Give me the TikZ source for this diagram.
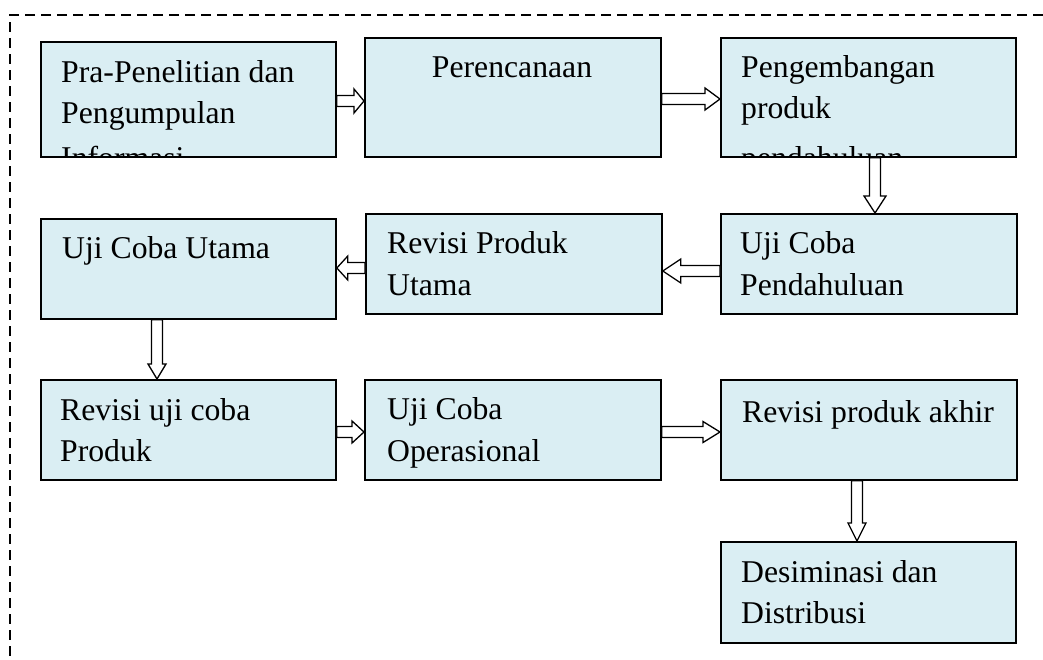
\documentclass[tikz,border=0pt]{standalone}
\usepackage{fontspec}
\setmainfont{Liberation Serif}
\usetikzlibrary{calc}
\definecolor{boxblue}{HTML}{DAEEF3}
\tikzset{
  stepbox/.style={draw=black, fill=boxblue, line width=1.8pt, rectangle, inner sep=0pt, anchor=north west},
  txt/.style={anchor=base west, inner sep=0pt, font=\fontsize{31.7}{41}\selectfont},
  txtc/.style={anchor=base, inner sep=0pt, font=\fontsize{31.7}{41}\selectfont},
  barrow/.style={draw=black, fill=white, line width=1.3pt, line join=miter},
  frame/.style={draw=black, line width=2.2pt, dash pattern=on 10pt off 6pt}
}
% block arrow: #1 start, #2 tip, #3 head length, #4 head half width
\newcommand{\blockarr}[4]{%
  \coordinate (ba-h) at ($(#2)!#3!(#1)$);
  \draw[barrow] ($(#1)!5.5pt!90:(#2)$) -- ($(ba-h)!5.5pt!90:(#2)$) -- ($(ba-h)!#4!90:(#2)$)
    -- (#2) -- ($(ba-h)!#4!-90:(#2)$) -- ($(ba-h)!5.5pt!-90:(#2)$) -- ($(#1)!5.5pt!-90:(#2)$) -- cycle;
}
\begin{document}
\begin{tikzpicture}[x=1pt,y=-1pt]
\useasboundingbox (0,0) rectangle (1043,659);
% dashed frame
\coordinate (fTR) at (1043,15);
\coordinate (fTL) at (10,15);
\coordinate (fBL) at (10,659);
\draw[frame] (fTR) -- (fTL) -- (fBL);

% boxes
\node[stepbox, minimum width=295pt, minimum height=115pt] (b1) at (40,41) {};
\node[stepbox, minimum width=296pt, minimum height=119pt] (b2) at (364,37) {};
\node[stepbox, minimum width=295pt, minimum height=119pt] (b3) at (720,37) {};
\node[stepbox, minimum width=295pt, minimum height=100pt] (b4) at (40,218) {};
\node[stepbox, minimum width=296pt, minimum height=100pt] (b5) at (365,213) {};
\node[stepbox, minimum width=296pt, minimum height=100pt] (b6) at (720,213) {};
\node[stepbox, minimum width=295pt, minimum height=100pt] (b7) at (40,379) {};
\node[stepbox, minimum width=296pt, minimum height=100pt] (b8) at (364,379) {};
\node[stepbox, minimum width=296pt, minimum height=100pt] (b9) at (720,379) {};
\node[stepbox, minimum width=295pt, minimum height=101pt] (b10) at (720,541) {};

% texts
\begin{scope}
  \clip ($(b1.north west)+(0.9pt,-0.9pt)$) rectangle ($(b1.south east)+(-0.9pt,0.9pt)$);
  \node[txt] (t1a) at (61,82) {Pra-Penelitian dan};
  \node[txt] (t1b) at (61,123) {Pengumpulan};
  \node[txt] (t1c) at (61,168) {Informasi};
\end{scope}
\node[txtc] (t2a) at (512,77) {Perencanaan};
\begin{scope}
  \clip ($(b3.north west)+(0.9pt,-0.9pt)$) rectangle ($(b3.south east)+(-0.9pt,0.9pt)$);
  \node[txt] (t3a) at (741,77) {Pengembangan};
  \node[txt] (t3b) at (741,118) {produk};
  \node[txt] (t3c) at (741,168) {pendahuluan};
\end{scope}
\node[txt] (t4a) at (62,258) {Uji Coba Utama};
\node[txt] (t5a) at (387,253) {Revisi Produk};
\node[txt] (t5b) at (387,295) {Utama};
\node[txt] (t6a) at (740,253) {Uji Coba};
\node[txt] (t6b) at (740,295) {Pendahuluan};
\node[txt] (t7a) at (60,420) {Revisi uji coba};
\node[txt] (t7b) at (60,461) {Produk};
\node[txt] (t8a) at (387,419) {Uji Coba};
\node[txt] (t8b) at (387,461) {Operasional};
\node[txt] (t9a) at (742,422) {Revisi produk akhir};
\node[txt] (t10a) at (741,582) {Desiminasi dan};
\node[txt] (t10b) at (741,623) {Distribusi};

% arrow guide levels
\coordinate (ya) at (0,101);
\coordinate (yb) at (0,99);
\coordinate (xc) at (875,0);
\coordinate (yd) at (0,271);
\coordinate (ye) at (0,268);
\coordinate (xf) at (157,0);
\coordinate (yg) at (0,432);
\coordinate (xh) at (857,0);

\coordinate (a1s) at (b1.east |- ya);  \coordinate (a1e) at (b2.west |- ya);
\coordinate (a2s) at (b2.east |- yb);  \coordinate (a2e) at (b3.west |- yb);
\coordinate (a3s) at (b3.south -| xc); \coordinate (a3e) at (b6.north -| xc);
\coordinate (a4s) at (b6.west |- yd);  \coordinate (a4e) at (b5.east |- yd);
\coordinate (a5s) at (b5.west |- ye);  \coordinate (a5e) at (b4.east |- ye);
\coordinate (a6s) at (b4.south -| xf); \coordinate (a6e) at (b7.north -| xf);
\coordinate (a7s) at (b7.east |- yg);  \coordinate (a7e) at (b8.west |- yg);
\coordinate (a8s) at (b8.east |- yg);  \coordinate (a8e) at (b9.west |- yg);
\coordinate (a9s) at (b9.south -| xh); \coordinate (a9e) at (b10.north -| xh);

\blockarr{a1s}{a1e}{10pt}{12pt}
\blockarr{a2s}{a2e}{15pt}{11pt}
\blockarr{a3s}{a3e}{17pt}{11pt}
\blockarr{a4s}{a4e}{18pt}{12pt}
\blockarr{a5s}{a5e}{11pt}{12pt}
\blockarr{a6s}{a6e}{15pt}{9pt}
\blockarr{a7s}{a7e}{12pt}{11pt}
\blockarr{a8s}{a8e}{17pt}{10.5pt}
\blockarr{a9s}{a9e}{18pt}{9pt}
\end{tikzpicture}
\end{document}
